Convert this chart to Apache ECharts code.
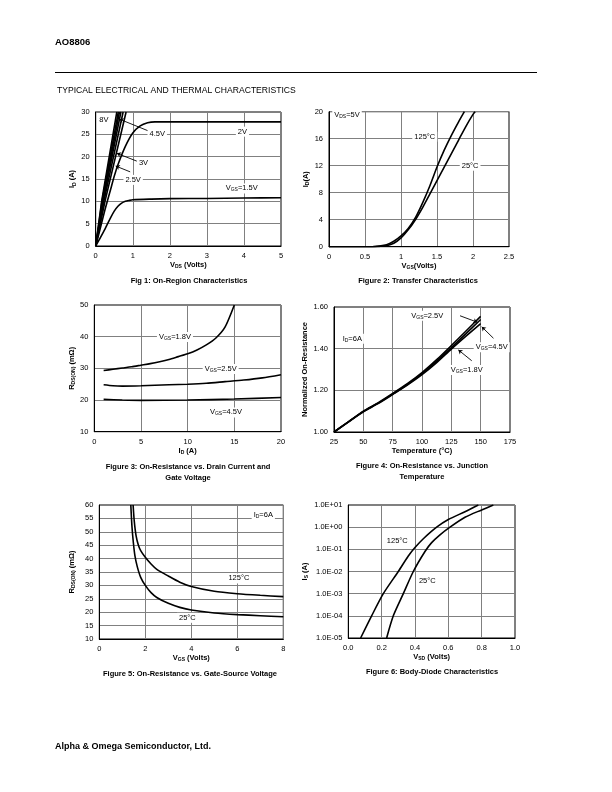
<!DOCTYPE html>
<html><head><meta charset="utf-8">
<script src="https://cdn.jsdelivr.net/npm/echarts@6/dist/echarts.min.js"></script>
<style>html,body{margin:0;padding:0;background:#fff}#c{width:612px;height:792px}</style>
</head><body><div id="c"></div>
<script>
// ---------- DATA ----------
// Fig 1: On-region characteristics (VDS, ID)
const fig1_vgs8   = [[0,0],[0.16,10],[0.57,30]];
const fig1_vgs6   = [[0,0],[0.17,10],[0.61,30]];
const fig1_vgs45  = [[0,0],[0.19,10],[0.64,30]];
const fig1_vgs4   = [[0,0],[0.20,10],[0.68,30]];
const fig1_vgs3   = [[0,0],[0.22,10],[0.74,30]];
const fig1_vgs25  = [[0,0],[0.25,10],[0.82,30]];
const fig1_vgs2   = [[0,0],[0.1,3.2],[0.25,8.1],[0.4,12.6],[0.5,15.6],[0.6,18.2],[0.8,22.3],[1.0,25.3],[1.2,26.9],[1.4,27.6],[1.6,27.8],[2,27.8],[3,27.8],[4,27.8],[5,27.8]];
const fig1_vgs15  = [[0,0],[0.1,1.5],[0.25,3.8],[0.4,6.3],[0.5,7.8],[0.6,8.9],[0.7,9.6],[0.8,10.0],[0.9,10.2],[1,10.35],[1.5,10.5],[2,10.6],[3,10.65],[4,10.75],[5,10.8]];
// Fig 2: Transfer characteristics (VGS, ID)
const fig2_25C  = [[0,0],[0.6,0],[0.7,0.05],[0.8,0.15],[0.9,0.5],[1.0,1.3],[1.1,2.5],[1.2,4.0],[1.3,5.8],[1.4,7.8],[1.5,9.8],[1.6,11.8],[1.7,13.8],[1.8,15.8],[1.9,17.8],[2.0,19.6],[2.03,20]];
const fig2_125C = [[0,0],[0.6,0],[0.7,0.1],[0.8,0.3],[0.9,0.8],[1.0,1.6],[1.1,2.7],[1.2,4.3],[1.3,6.5],[1.4,9.0],[1.5,11.8],[1.6,14.3],[1.7,16.5],[1.8,18.5],[1.88,20]];
// Fig 3: RDS(ON) vs ID
const fig3_vgs18 = [[1,29.3],[2,29.7],[3,30.1],[4,30.5],[5,31],[6,31.5],[7,32.1],[8,32.8],[9,33.7],[10,34.6],[11,35.8],[12,37.4],[13,39.5],[14,43],[15,50]];
const fig3_vgs25 = [[1,24.8],[2,24.5],[3,24.4],[5,24.5],[8,24.8],[10,25],[12,25.3],[14,25.8],[16,26.3],[18,27],[20,28]];
const fig3_vgs45 = [[1,20.2],[3,20],[5,19.9],[10,20],[15,20.3],[20,20.8]];
// Fig 4: Normalized RDS(ON) vs temperature
const fig4_vgs25 = [[25,1.0],[37.5,1.05],[50,1.1],[62.5,1.14],[75,1.185],[87.5,1.232],[100,1.285],[112.5,1.347],[125,1.415],[137.5,1.485],[150,1.555]];
const fig4_vgs45 = [[25,1.0],[37.5,1.05],[50,1.098],[62.5,1.138],[75,1.182],[87.5,1.228],[100,1.28],[112.5,1.34],[125,1.405],[137.5,1.472],[150,1.54]];
const fig4_vgs18 = [[25,1.0],[37.5,1.049],[50,1.097],[62.5,1.136],[75,1.18],[87.5,1.225],[100,1.275],[112.5,1.333],[125,1.398],[137.5,1.46],[150,1.52]];
// Fig 5: RDS(ON) vs VGS
const fig5_125C = [[1.47,60],[1.52,54],[1.6,48.5],[1.7,45],[1.8,43],[2,40.5],[2.25,38],[2.5,36],[3,33.5],[3.5,31.2],[4,29.6],[5,27.8],[6,26.9],[7,26.3],[8,25.8]];
const fig5_25C  = [[1.37,60],[1.42,52],[1.48,46],[1.55,41],[1.65,37],[1.8,33],[2,30],[2.25,27.3],[2.5,25.5],[3,23.3],[3.5,21.8],[4,20.8],[5,19.7],[6,19.1],[7,18.7],[8,18.3]];
// Fig 6: Body-diode characteristics (VSD, IS)
const fig6_125C = [[0.074,1e-5],[0.14,1e-4],[0.21,1e-3],[0.30,1e-2],[0.36,5e-2],[0.40,1.2e-1],[0.45,3e-1],[0.53,1],[0.6,2.2],[0.7,5],[0.78,10]];
const fig6_25C  = [[0.23,1e-5],[0.27,1e-4],[0.33,1e-3],[0.39,1e-2],[0.46,8e-2],[0.5,2e-1],[0.55,4.5e-1],[0.61,1],[0.7,2.8],[0.8,6],[0.87,10]];
const fig6_yTickLabels = ['1.0E-05','1.0E-04','1.0E-03','1.0E-02','1.0E-01','1.0E+00','1.0E+01'];

// ---------- LAYOUT / STYLE ----------
const FONT = "'Liberation Sans', Arial, sans-serif";
const grids = [
  {left:95.7, top:112, width:185.3, height:134},
  {left:329, top:111.7, width:180, height:135},
  {left:94.3, top:305, width:186.7, height:126.7},
  {left:334, top:307, width:176, height:125},
  {left:99.3, top:505, width:184, height:134},
  {left:348.3, top:505, width:166.7, height:133}
];
const richName = {
  s:{fontSize:5, fontWeight:'bold', fontFamily:FONT, padding:[4,0,0,0]}
};
const nameStyle = {fontSize:7.5, fontWeight:'bold', fontFamily:FONT, color:'#000', rich:richName};
const lblStyle = {fontSize:7.5, fontFamily:FONT, color:'#000'};
function xAxis(i, min, max, interval, name, gap, fmt){
  return {type:'value', gridIndex:i, min, max, interval, name, nameLocation:'middle', nameGap:gap,
    nameTextStyle:nameStyle,
    axisLine:{show:true, lineStyle:{color:'#000', width:1}}, axisTick:{show:false},
    axisLabel:Object.assign({margin:6, formatter:fmt}, lblStyle),
    splitLine:{show:true, lineStyle:{color:'#808080', width:1}}};
}
function yAxis(i, min, max, interval, name, gap, fmt, type){
  const a = {type:type||'value', gridIndex:i, min, max, interval, name, nameLocation:'middle', nameGap:gap, nameRotate:90,
    nameTextStyle:nameStyle,
    axisLine:{show:true, lineStyle:{color:'#000', width:1}}, axisTick:{show:false},
    axisLabel:Object.assign({margin:6, formatter:fmt}, lblStyle),
    splitLine:{show:true, lineStyle:{color:'#808080', width:1}}};
  if (type==='log') a.logBase = 10;
  return a;
}
function line(i, data, smooth, extra){
  return Object.assign({type:'line', xAxisIndex:i, yAxisIndex:i, data, showSymbol:false, symbol:'none',
    smooth: smooth ? 0.25 : false,
    lineStyle:{color:'#000', width:1.6}, silent:true, animation:false}, extra||{});
}
function arrows(list){
  return {markLine:{silent:true, symbol:['none','arrow'], symbolSize:4, animation:false, label:{show:false},
    lineStyle:{color:'#000', width:0.9, type:'solid'},
    data:list.map(a=>[{coord:a[0]},{coord:a[1]}])}};
}

const option = {
  animation:false,
  textStyle:{fontFamily:FONT},
  grid: grids.map(g=>Object.assign({show:true, borderColor:'#000', borderWidth:1, backgroundColor:'#fff'}, g)),
  xAxis:[
    xAxis(0,0,5,1,'V{s|DS} (Volts)',14),
    xAxis(1,0,2.5,0.5,'V{s|GS}(Volts)',14),
    xAxis(2,0,20,5,'I{s|D} (A)',14),
    xAxis(3,25,175,25,'Temperature (°C)',14),
    xAxis(4,0,8,2,'V{s|GS} (Volts)',14),
    xAxis(5,0,1,0.2,'V{s|SD} (Volts)',14, v=>v.toFixed(1))
  ],
  yAxis:[
    yAxis(0,0,30,5,'I{s|D} (A)',19),
    yAxis(1,0,20,4,'I{s|D}(A)',19),
    yAxis(2,10,50,10,'R{s|DS(ON)} (mΩ)',18),
    yAxis(3,1,1.6,0.2,'Normalized On-Resistance',25, v=>v.toFixed(2)),
    yAxis(4,10,60,5,'R{s|DS(ON)} (mΩ)',23),
    yAxis(5,1e-5,10,1,'I{s|S} (A)',39, v=>fig6_yTickLabels[Math.round(Math.log10(v))+5], 'log')
  ],
  series:[
    line(0,fig1_vgs8), line(0,fig1_vgs6), line(0,fig1_vgs45), line(0,fig1_vgs4), line(0,fig1_vgs3), line(0,fig1_vgs25),
    line(0,fig1_vgs2,true), line(0,fig1_vgs15,true, arrows([
      [[1.47,25.6],[0.64,28.4]],
      [[1.11,19.0],[0.57,20.75]],
      [[0.93,16.6],[0.54,17.9]]
    ])),
    line(1,fig2_25C,true), line(1,fig2_125C,true),
    line(2,fig3_vgs18,true), line(2,fig3_vgs25,true), line(2,fig3_vgs45,true),
    line(3,fig4_vgs25,true), line(3,fig4_vgs45,true), line(3,fig4_vgs18,true, arrows([
      [[132.4,1.558],[147.1,1.527]],
      [[160.9,1.45],[150.9,1.505]],
      [[142.4,1.342],[131,1.394]]
    ])),
    line(4,fig5_125C,true), line(4,fig5_25C,true),
    line(5,fig6_125C,true), line(5,fig6_25C,true)
  ]
};
const chart = echarts.init(document.getElementById('c'), null, {renderer:'canvas'});
chart.setOption(option);

// ---------- annotations (positioned through the axes) ----------
const annRich = {s:{fontSize:5, fontFamily:FONT, padding:[3,0,0,0]}};
const notes = [
  [0,[0.22,28.2],'8V'],
  [0,[1.66,25.0],'4.5V'],
  [0,[3.96,25.6],'2V'],
  [0,[1.29,18.5],'3V'],
  [0,[1.01,14.8],'2.5V'],
  [0,[3.94,12.9],'V{s|GS}=1.5V'],
  [1,[0.25,19.5],'V{s|DS}=5V'],
  [1,[1.33,16.3],'125°C'],
  [1,[1.96,12.0],'25°C'],
  [2,[8.64,39.9],'V{s|GS}=1.8V'],
  [2,[13.54,29.8],'V{s|GS}=2.5V'],
  [2,[14.1,16.1],'V{s|GS}=4.5V'],
  [3,[40.6,1.4475],'I{s|D}=6A'],
  [3,[104.5,1.558],'V{s|GS}=2.5V'],
  [3,[159.4,1.407],'V{s|GS}=4.5V'],
  [3,[138.1,1.298],'V{s|GS}=1.8V'],
  [4,[7.13,56.3],'I{s|D}=6A'],
  [4,[6.07,32.6],'125°C'],
  [4,[3.83,17.9],'25°C'],
  [5,[0.294,0.245],'125°C'],
  [5,[0.474,0.0039],'25°C']
];
const graphics = [];
notes.forEach(n=>{
  const p = chart.convertToPixel({gridIndex:n[0]}, n[1]);
  graphics.push({type:'text', x:p[0], y:p[1], z:100, style:{text:n[2], font:'7.5px '+FONT, fill:'#000',
    align:'center', verticalAlign:'middle', backgroundColor:'#fff', padding:[1,2], rich:annRich}});
});
// page texts
const T = (x,y,text,font,align)=>({type:'text', x, y, style:{text, font, fill:'#000', align:align||'left', verticalAlign:'middle'}});
graphics.push(T(55,42,'AO8806','bold 9.5px '+FONT));
graphics.push({type:'rect', shape:{x:55,y:72,width:482,height:1}, style:{fill:'#000'}});
graphics.push(T(57,91,'TYPICAL ELECTRICAL AND THERMAL CHARACTERISTICS','8.6px '+FONT));
graphics.push(T(55,747,'Alpha & Omega Semiconductor, Ltd.','bold 9px '+FONT));
const CF = 'bold 7.5px '+FONT;
graphics.push(T(189,281,'Fig 1: On-Region Characteristics',CF,'center'));
graphics.push(T(418,281,'Figure 2: Transfer Characteristics',CF,'center'));
graphics.push(T(188,467,'Figure 3: On-Resistance vs. Drain Current and',CF,'center'));
graphics.push(T(188,478,'Gate Voltage',CF,'center'));
graphics.push(T(422,466,'Figure 4: On-Resistance vs. Junction',CF,'center'));
graphics.push(T(422,477,'Temperature',CF,'center'));
graphics.push(T(190,674,'Figure 5: On-Resistance vs. Gate-Source Voltage',CF,'center'));
graphics.push(T(432,672,'Figure 6: Body-Diode Characteristics',CF,'center'));
chart.setOption({graphic:graphics});
</script></body></html>
